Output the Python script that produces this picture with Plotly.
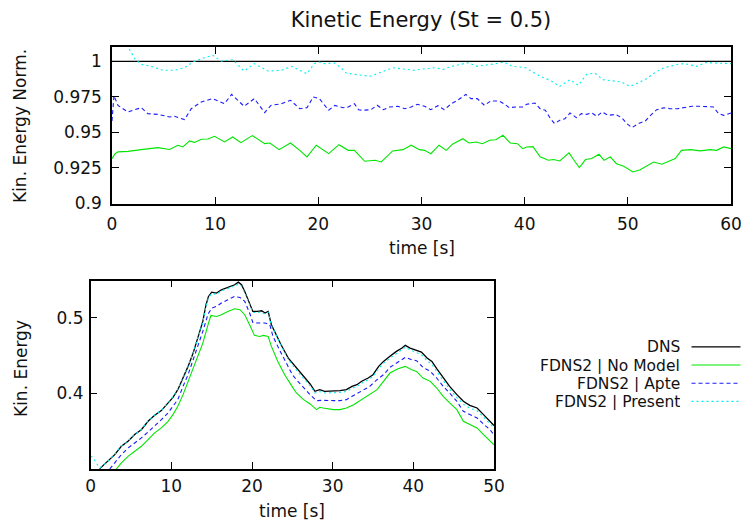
import plotly.graph_objects as go

# ---------------- Top panel: normalised kinetic energy (St = 0.5) ----------------
top_dns_t = [0, 60]
top_dns_v = [1.0, 1.0]

top_nomodel_t = [0, 0.3, 0.58, 1.55, 2.84, 4.45, 5.58, 6.39, 6.87, 7.52, 8.0, 8.65, 9.29, 9.94,
                 10.9, 11.7, 12.5, 13.6, 14.8, 15.3, 16.2, 17.3, 18.2, 18.9, 19.8, 21.0, 22.0,
                 22.9, 23.5, 24.5, 25.5, 26.1, 27.2, 28.2, 29.0, 29.8, 30.3, 30.9, 31.7, 32.4,
                 33.0, 34.0, 34.6, 35.3, 35.9, 36.6, 37.2, 37.9, 38.6, 39.3, 39.8, 40.2, 40.8,
                 41.5, 42.3, 42.8, 43.4, 44.3, 44.9, 45.3, 45.9, 46.5, 47.2, 47.7, 48.3, 48.9,
                 49.6, 50.5, 51.2, 51.8, 52.5, 53.3, 53.9, 54.6, 55.2, 56.1, 57.0, 58.0, 58.6,
                 59.3, 60.0]
top_nomodel_v = [0.9316, 0.935, 0.9363, 0.9367, 0.9379, 0.9393, 0.938, 0.941, 0.9398, 0.944,
                 0.943, 0.9452, 0.9454, 0.9473, 0.9433, 0.9468, 0.9428, 0.9478, 0.9421, 0.9426,
                 0.9379, 0.9426, 0.9374, 0.9328, 0.941, 0.9351, 0.9414, 0.9374, 0.9374, 0.9297,
                 0.9304, 0.9292, 0.937, 0.9379, 0.941, 0.9379, 0.9374, 0.935, 0.941, 0.9374,
                 0.9417, 0.9456, 0.9426, 0.9433, 0.9421, 0.9445, 0.9449, 0.948, 0.9426, 0.9421,
                 0.9386, 0.9398, 0.940, 0.9328, 0.9304, 0.9309, 0.9299, 0.9356, 0.9292, 0.9253,
                 0.9309, 0.9316, 0.9346, 0.9304, 0.9328, 0.928, 0.9262, 0.9222, 0.9238, 0.9262,
                 0.9292, 0.9276, 0.9292, 0.9316, 0.9374, 0.9379, 0.937, 0.9379, 0.9374, 0.9398,
                 0.9386]

top_apte_t = [0, 0.19, 0.58, 1.55, 2.19, 2.84, 3.48, 4.45, 5.58, 6.06, 7.03, 7.68, 8.65, 9.77,
              10.9, 11.6, 12.2, 12.8, 13.8, 14.8, 15.4, 16.4, 17.3, 18.2, 18.9, 19.5, 20.1,
              20.6, 21.0, 21.6, 22.4, 22.9, 23.5, 23.9, 24.3, 25.1, 25.7, 26.3, 26.9, 27.7,
              28.4, 29.0, 29.6, 30.3, 30.9, 31.6, 32.2, 32.9, 33.5, 34.3, 34.8, 35.4, 36.1,
              36.7, 37.5, 38.0, 38.5, 39.1, 39.8, 40.2, 41.0, 41.5, 42.0, 42.5, 42.9, 43.4,
              43.9, 44.4, 45.0, 45.5, 46.0, 46.5, 47.0, 47.5, 48.1, 48.8, 49.4, 49.9, 50.4,
              51.0, 51.7, 52.2, 52.8, 53.5, 54.1, 54.8, 55.4, 56.2, 57.0, 57.8, 58.3, 58.8,
              59.3, 60.0]
top_apte_v = [0.958, 0.976, 0.969, 0.9644, 0.966, 0.9674, 0.9632, 0.9627, 0.9609, 0.9614, 0.959,
              0.9667, 0.9714, 0.9738, 0.9702, 0.9768, 0.9726, 0.9684, 0.9738, 0.9639, 0.969,
              0.9702, 0.9726, 0.9667, 0.9674, 0.975, 0.9738, 0.9691, 0.9656, 0.969, 0.9674,
              0.9679, 0.9702, 0.966, 0.9656, 0.966, 0.9691, 0.966, 0.9679, 0.9684, 0.9667,
              0.9679, 0.9698, 0.9684, 0.966, 0.9688, 0.966, 0.9702, 0.9726, 0.9768, 0.9738,
              0.9738, 0.9691, 0.9721, 0.9721, 0.9702, 0.9674, 0.9679, 0.9679, 0.9698, 0.9707,
              0.9667, 0.9656, 0.9597, 0.9562, 0.9585, 0.9597, 0.9637, 0.9604, 0.9632, 0.9627,
              0.9637, 0.9613, 0.9644, 0.962, 0.9627, 0.9604, 0.9562, 0.9534, 0.9562, 0.9581,
              0.962, 0.966, 0.9674, 0.9667, 0.9667, 0.9674, 0.9684, 0.9684, 0.9684, 0.9679,
              0.9632, 0.962, 0.9637]

top_present_t = [0, 0.8, 1.4, 1.6, 2.2, 2.84, 3.8, 4.94, 6.06, 7.03, 7.84, 8.97, 9.77, 10.6,
                 11.7, 12.8, 13.8, 15.1, 16.4, 17.4, 18.2, 18.9, 19.6, 20.1, 20.6, 21.6, 22.3,
                 22.7, 23.5, 24.5, 25.0, 26.1, 27.2, 28.0, 29.3, 30.3, 31.3, 32.1, 32.9, 33.8,
                 34.5, 35.4, 36.2, 37.2, 38.0, 38.8, 39.5, 40.1, 40.5, 41.5, 42.5, 43.4, 44.4,
                 45.2, 46.0, 46.8, 47.6, 48.6, 49.4, 50.2, 51.0, 51.8, 52.7, 53.5, 54.3, 55.1,
                 55.9, 56.7, 57.5, 58.3, 59.1, 60.0]
top_present_v = [1.03, 1.02, 1.011, 1.0096, 1.0019, 0.9979, 0.9965, 0.9937, 0.9937, 0.9955,
                 0.9995, 1.0026, 1.0042, 1.0002, 1.0012, 0.9932, 0.9984, 0.9932, 0.9937, 0.9965,
                 0.9937, 0.9913, 0.9984, 0.9995, 0.9984, 0.9988, 0.9948, 0.9918, 0.9909, 0.9902,
                 0.9895, 0.9925, 0.9955, 0.9948, 0.9937, 0.9948, 0.9955, 0.9944, 0.9965, 0.9979,
                 0.9991, 0.9965, 0.9972, 0.9984, 0.9995, 0.9965, 0.996, 0.9955, 0.9937, 0.9895,
                 0.9866, 0.9824, 0.9871, 0.9831, 0.9909, 0.9918, 0.9871, 0.9862, 0.9855, 0.9824,
                 0.9848, 0.9878, 0.9925, 0.9955, 0.9972, 0.9984, 0.9979, 0.9965, 0.9991, 0.9988,
                 0.9988, 0.9984]

# ---------------- Bottom panel: kinetic energy ----------------
bot_dns_t = [1.12, 2.15, 2.98, 3.8, 4.63, 5.45, 6.28, 7.11, 7.93, 8.76, 9.59, 10.2, 10.8, 11.45,
             12.07, 12.7, 13.3, 13.9, 14.3, 14.6, 15.0, 15.6, 16.2, 17.0, 17.85, 18.3, 18.7,
             19.1, 19.5, 20.1, 20.7, 21.2, 21.6, 22.0, 22.4, 23.0, 23.6, 24.5, 25.5, 26.4,
             27.2, 27.8, 28.4, 29.0, 30.1, 30.9, 31.7, 32.4, 33.0, 33.6, 34.4, 35.0, 35.7,
             36.3, 37.1, 37.9, 38.6, 39.0, 39.6, 40.2, 41.0, 41.7, 42.3, 42.9, 43.7, 44.5,
             45.4, 46.2, 47.0, 47.9, 48.7, 49.5, 50.0]
bot_dns_v = [0.3005, 0.3102, 0.319, 0.330, 0.3366, 0.3455, 0.352, 0.3631, 0.371, 0.3772, 0.3873,
             0.3948, 0.4049, 0.4203, 0.4357, 0.4533, 0.4753, 0.4952, 0.5172, 0.5282, 0.5339,
             0.5326, 0.537, 0.540, 0.5436, 0.5471, 0.5436, 0.5348, 0.5238, 0.5084, 0.5084,
             0.5092, 0.5062, 0.5084, 0.4908, 0.4775, 0.4643, 0.4467, 0.4335, 0.4225, 0.4124,
             0.4027, 0.405, 0.4027, 0.4027, 0.4036, 0.405, 0.4093, 0.4115, 0.416, 0.4203,
             0.4247, 0.4357, 0.4423, 0.449, 0.4555, 0.4599, 0.4635, 0.4599, 0.4577, 0.4546,
             0.4467, 0.4423, 0.4326, 0.4203, 0.4093, 0.3983, 0.3895, 0.3842, 0.3807, 0.3719,
             0.3631, 0.3575]

bot_nomodel_t = [3.18, 3.8, 4.63, 5.45, 6.28, 7.11, 7.93, 8.76, 9.59, 10.2, 10.8, 11.45, 12.07,
                 12.7, 13.3, 13.9, 14.55, 14.9, 15.6, 16.2, 17.0, 17.85, 18.5, 19.1, 19.7, 20.3,
                 20.95, 21.4, 22.0, 22.4, 23.2, 24.05, 24.96, 25.5, 26.4, 27.2, 28.0, 28.4, 28.8,
                 30.1, 30.9, 31.7, 32.6, 33.6, 34.6, 35.5, 36.3, 37.1, 38.1, 39.0, 39.8, 40.4,
                 41.2, 42.1, 42.9, 43.7, 44.5, 45.4, 46.2, 47.0, 47.9, 48.7, 49.5, 50.0]
bot_nomodel_v = [0.300, 0.308, 0.3168, 0.3234, 0.330, 0.3388, 0.3477, 0.3543, 0.363, 0.3719,
                 0.3829, 0.3983, 0.416, 0.4335, 0.4511, 0.4665, 0.4908, 0.503, 0.5017, 0.504,
                 0.5084, 0.5119, 0.5106, 0.504, 0.4908, 0.4767, 0.4753, 0.4767, 0.4753, 0.4621,
                 0.4423, 0.4247, 0.4093, 0.4005, 0.3917, 0.386, 0.3785, 0.3816, 0.3807, 0.3785,
                 0.3785, 0.3807, 0.3851, 0.3917, 0.3983, 0.4049, 0.4159, 0.4269, 0.4326, 0.4357,
                 0.4313, 0.4291, 0.4203, 0.4159, 0.4071, 0.3961, 0.3873, 0.3785, 0.3631, 0.3587,
                 0.3543, 0.3454, 0.3366, 0.3320]

bot_apte_t = [2.36, 2.98, 3.8, 4.63, 5.45, 6.28, 7.11, 7.93, 8.76, 9.59, 10.2, 10.8, 11.45, 12.07,
              12.7, 13.3, 13.9, 14.55, 15.0, 15.6, 16.2, 17.0, 17.85, 18.5, 19.1, 19.7, 20.1,
              20.7, 21.6, 22.2, 22.6, 23.4, 24.3, 25.0, 25.5, 26.4, 27.2, 28.0, 28.8, 30.1,
              30.9, 31.7, 32.6, 33.6, 34.6, 35.5, 36.3, 37.1, 37.9, 39.0, 39.8, 40.4, 41.2,
              42.1, 42.9, 43.7, 44.5, 45.4, 46.2, 47.0, 47.9, 48.7, 49.5, 50.0]
bot_apte_v = [0.300, 0.308, 0.319, 0.3278, 0.3344, 0.3411, 0.349, 0.3565, 0.3653, 0.3741, 0.3829,
              0.3917, 0.4093, 0.4247, 0.4445, 0.4621, 0.482, 0.5048, 0.5128, 0.515, 0.5194,
              0.5238, 0.5282, 0.5269, 0.5216, 0.5062, 0.4938, 0.493, 0.493, 0.4908, 0.4753,
              0.4577, 0.4401, 0.4247, 0.4181, 0.4071, 0.3983, 0.3904, 0.3908, 0.3904, 0.3904,
              0.3917, 0.3974, 0.4027, 0.4093, 0.4181, 0.4247, 0.4344, 0.4401, 0.4476, 0.4445,
              0.4432, 0.4344, 0.4291, 0.4203, 0.4093, 0.4005, 0.3895, 0.3763, 0.3719, 0.3675,
              0.3595, 0.352, 0.3450]

bot_present_t = [0, 0.3, 0.7, 1.0, 1.2, 2.15, 2.98, 3.8, 4.63, 5.45, 6.28, 7.11, 7.93, 8.76,
                 9.59, 10.2, 10.8, 11.45, 12.07, 12.7, 13.3, 13.9, 14.3, 14.6, 15.0, 15.6, 16.2,
                 17.0, 17.85, 18.3, 18.7, 19.1, 19.5, 20.1, 20.7, 21.2, 21.6, 22.0, 22.4, 23.0,
                 23.6, 24.5, 25.5, 26.4, 27.2, 27.8, 28.4, 29.0, 30.1, 30.9, 31.7, 32.4, 33.0,
                 33.6, 34.4, 35.0, 35.7, 36.3, 37.1, 37.9, 38.6, 39.0, 39.6, 40.2, 41.0, 41.7,
                 42.3, 42.9, 43.7, 44.5, 45.4, 46.2, 47.0, 47.9, 48.7, 49.5, 50.0]
bot_present_v = [0.317, 0.315, 0.308, 0.303, 0.302, 0.3105, 0.3195, 0.3305, 0.337, 0.3455,
                 0.3525, 0.3635, 0.3715, 0.3775, 0.3878, 0.3955, 0.4055, 0.421, 0.436, 0.4535,
                 0.475, 0.494, 0.5155, 0.5265, 0.532, 0.531, 0.5355, 0.5385, 0.542, 0.5445,
                 0.5415, 0.533, 0.522, 0.507, 0.507, 0.5075, 0.5045, 0.507, 0.4895, 0.476,
                 0.4625, 0.4445, 0.431, 0.42, 0.41, 0.4005, 0.4025, 0.4005, 0.4005, 0.4012,
                 0.4025, 0.407, 0.409, 0.4135, 0.418, 0.4222, 0.433, 0.4398, 0.4465, 0.453,
                 0.4575, 0.461, 0.4575, 0.4548, 0.451, 0.4432, 0.4385, 0.4288, 0.4165, 0.4055,
                 0.3945, 0.3858, 0.3805, 0.377, 0.3685, 0.3597, 0.3545]

series_names = ["DNS", "FDNS2 | No Model", "FDNS2 | Apte", "FDNS2 | Present"]
series_colors = ["#000000", "#00e600", "#1a1aff", "#00f0f0"]
series_dashes = ["solid", "solid", "4px,3px", "2px,3px"]

top_x_ticks = [0, 10, 20, 30, 40, 50, 60]
top_y_ticks = [0.9, 0.925, 0.95, 0.975, 1.0]
top_y_labels = ["0.9", "0.925", "0.95", "0.975", "1"]
bot_x_ticks = [0, 10, 20, 30, 40, 50]
bot_y_ticks = [0.4, 0.5]
bot_y_labels = ["0.4", "0.5"]

FONT = "DejaVu Sans"
FS = 17
W, H = 745, 522

fig = go.Figure()
top_data = [(top_dns_t, top_dns_v), (top_nomodel_t, top_nomodel_v),
            (top_apte_t, top_apte_v), (top_present_t, top_present_v)]
bot_data = [(bot_dns_t, bot_dns_v), (bot_nomodel_t, bot_nomodel_v),
            (bot_apte_t, bot_apte_v), (bot_present_t, bot_present_v)]

for i, (t, v) in enumerate(top_data):
    fig.add_trace(go.Scatter(x=t, y=v, mode="lines", name=series_names[i], showlegend=False,
                             line=dict(color=series_colors[i], width=1.3 if i == 0 else 1.1,
                                       dash=series_dashes[i]),
                             xaxis="x", yaxis="y"))
for i, (t, v) in enumerate(bot_data):
    fig.add_trace(go.Scatter(x=t, y=v, mode="lines", name=series_names[i], showlegend=False,
                             line=dict(color=series_colors[i], width=1.3 if i == 0 else 1.1,
                                       dash=series_dashes[i]),
                             xaxis="x2", yaxis="y2"))

def px_x(p):
    return p / W

def px_y(p):
    return 1 - p / H

axis_common = dict(showgrid=False, zeroline=False, showline=True, linecolor="black",
                   linewidth=1.5, mirror="ticks", ticks="inside", ticklen=7,
                   tickcolor="black", tickwidth=1.2, automargin=False,
                   tickfont=dict(family=FONT, size=FS, color="#111"))

fig.update_layout(
    width=W, height=H,
    margin=dict(l=0, r=0, t=0, b=0, autoexpand=False),
    paper_bgcolor="white", plot_bgcolor="white",
    font=dict(family=FONT, size=FS, color="#111"),
    showlegend=False,
    title=dict(text="Kinetic Energy (St = 0.5)", x=px_x(421), xanchor="center",
               y=px_y(20), yanchor="middle", font=dict(family=FONT, size=21, color="#111")),
    xaxis=dict(domain=[px_x(112), px_x(731)], range=[0, 60], tickvals=top_x_ticks,
               anchor="y", ticklabelstandoff=4, **axis_common),
    yaxis=dict(domain=[px_y(203.5), px_y(47.3)], range=[0.9, 1.0099], tickvals=top_y_ticks,
               ticktext=top_y_labels, anchor="x", ticklabelstandoff=5, **axis_common),
    xaxis2=dict(domain=[px_x(90.7), px_x(494)], range=[0, 50], tickvals=bot_x_ticks,
                anchor="y2", ticklabelstandoff=1, **axis_common),
    yaxis2=dict(domain=[px_y(469), px_y(280.7)], range=[0.3, 0.549], tickvals=bot_y_ticks,
                ticktext=bot_y_labels, anchor="x2", ticklabelstandoff=2, **axis_common),
)

# axis titles placed where gnuplot puts them
axis_titles = [("time [s]", 422, 248, 0), ("Kin. Energy Norm.", 20, 126, -90),
               ("time [s]", 292, 511, 0), ("Kin. Energy", 21, 369, -90)]
for text, ax, ay, ang in axis_titles:
    fig.add_annotation(x=px_x(ax), y=px_y(ay), xref="paper", yref="paper", text=text,
                       showarrow=False, xanchor="center", yanchor="middle", textangle=ang,
                       font=dict(family=FONT, size=FS, color="#111"))

# gnuplot-style key: right-aligned labels with line samples to their right
key_rows = [346.8, 365.0, 383.2, 401.4]
for i, name in enumerate(series_names):
    fig.add_annotation(x=px_x(681), y=px_y(key_rows[i]), xref="paper", yref="paper",
                       text=name, showarrow=False, xanchor="right", yanchor="middle",
                       height=17, valign="middle", borderpad=0,
                       font=dict(family=FONT, size=15.5, color="#111"))
    fig.add_shape(type="line", xref="paper", yref="paper",
                  x0=px_x(691.5), x1=px_x(740.5), y0=px_y(key_rows[i]), y1=px_y(key_rows[i]),
                  line=dict(color=series_colors[i], width=1.3 if i == 0 else 1.1,
                            dash=series_dashes[i]))

fig.write_html("out.html")
